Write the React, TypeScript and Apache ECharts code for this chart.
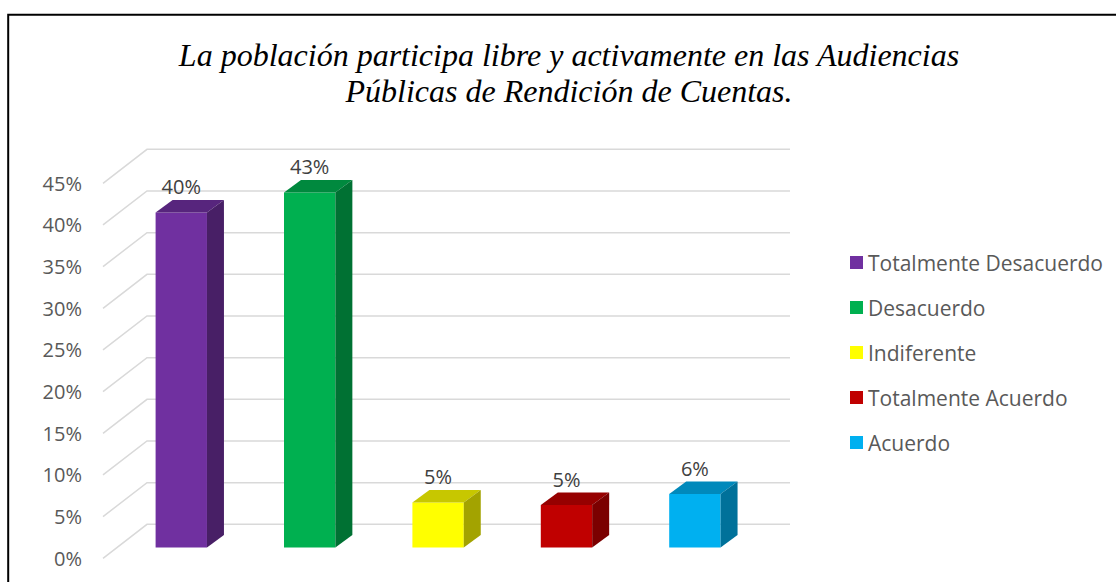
import React, { useEffect, useRef } from "react";
import * as echarts from "echarts";

const categories = [
  "Totalmente Desacuerdo",
  "Desacuerdo",
  "Indiferente",
  "Totalmente Acuerdo",
  "Acuerdo",
];
const values = [40.2, 42.6, 5.4, 5.1, 6.4];
const frontColors = ["#7030A0", "#00B050", "#FFFF00", "#C00000", "#00B0F0"];
const topColors = ["#57257D", "#00893E", "#C7C700", "#960000", "#0089BB"];
const sideColors = ["#481F66", "#007133", "#A3A300", "#7B0000", "#00719A"];
const gridTicks = [0, 5, 10, 15, 20, 25, 30, 35, 40, 45];
const titleText =
  "La población participa libre y activamente en las Audiencias\nPúblicas de Rendición de Cuentas.";

const DEPTH_X = 44;
const DEPTH_Y = -34;
const BAR_POS = 0.32;
const BAR_DX = 17;
const BAR_DY = -12.5;

export default function App() {
  const ref = useRef<HTMLDivElement>(null);

  useEffect(() => {
    if (!ref.current) return;
    const chart = echarts.init(ref.current, null, { renderer: "svg" });

    const gridSeries: any = {
      type: "custom",
      name: "grid",
      z: 1,
      silent: true,
      data: gridTicks.map((t) => [0, t]),
      renderItem: (params: any, api: any) => {
        const cs = params.coordSys;
        const y = api.coord([0, api.value(1)])[1];
        return {
          type: "polyline",
          shape: {
            points: [
              [cs.x, y],
              [cs.x + DEPTH_X, y + DEPTH_Y],
              [cs.x + cs.width + DEPTH_X + 1, y + DEPTH_Y],
            ],
          },
          style: { stroke: "#D9D9D9", lineWidth: 1.5, fill: "none" },
        };
      },
    };

    const barSeries = categories.map((name, i) => ({
      type: "custom",
      name,
      z: 2,
      itemStyle: { color: frontColors[i] },
      data: [[i, values[i]]],
      renderItem: (params: any, api: any) => {
        const p0 = api.coord([api.value(0), 0]);
        const p1 = api.coord([api.value(0), api.value(1)]);
        const bandW = api.size([1, 0])[0];
        const w = bandW * 0.4;
        const cx = p0[0] + DEPTH_X * BAR_POS;
        const yb = p0[1] + DEPTH_Y * BAR_POS;
        const yt = p1[1] + DEPTH_Y * BAR_POS;
        const l = cx - w / 2;
        const r = cx + w / 2;
        return {
          type: "group",
          children: [
            {
              type: "rect",
              shape: { x: l, y: yt, width: w, height: yb - yt },
              style: { fill: frontColors[i] },
            },
            {
              type: "polygon",
              shape: {
                points: [
                  [l, yt],
                  [r, yt],
                  [r + BAR_DX, yt + BAR_DY],
                  [l + BAR_DX, yt + BAR_DY],
                ],
              },
              style: { fill: topColors[i] },
            },
            {
              type: "polygon",
              shape: {
                points: [
                  [r, yt],
                  [r + BAR_DX, yt + BAR_DY],
                  [r + BAR_DX, yb + BAR_DY],
                  [r, yb],
                ],
              },
              style: { fill: sideColors[i] },
            },
            {
              type: "text",
              style: {
                x: cx,
                y: yt + BAR_DY - 13,
                text: Math.round(api.value(1)) + "%",
                align: "center",
                verticalAlign: "middle",
                fontSize: 20,
                fontFamily: "Open Sans",
                fill: "#404040",
              },
            },
          ],
        };
      },
    }));

    chart.setOption({
      animation: false,
      backgroundColor: "#FFFFFF",
      title: {
        text: titleText,
        left: 569,
        top: 37,
        padding: 0,
        textAlign: "center",
        textStyle: {
          fontFamily: "Liberation Serif",
          fontStyle: "italic",
          fontWeight: "normal",
          fontSize: 32,
          lineHeight: 36,
          color: "#000000",
        },
      },
      legend: {
        data: categories,
        orient: "vertical",
        left: 850,
        top: 252,
        padding: 0,
        itemWidth: 13,
        itemHeight: 13,
        itemGap: 24,
        icon: "rect",
        selectedMode: false,
        textStyle: {
          fontFamily: "Open Sans",
          fontSize: 21,
          lineHeight: 21,
          color: "#595959",
        },
      },
      grid: { left: 103, top: 183.3, width: 642, height: 375 },
      xAxis: {
        type: "category",
        data: categories,
        axisLine: { show: false },
        axisTick: { show: false },
        axisLabel: { show: false },
        splitLine: { show: false },
      },
      yAxis: {
        type: "value",
        min: 0,
        max: 45,
        interval: 5,
        axisLine: { show: false },
        axisTick: { show: false },
        splitLine: { show: false },
        axisLabel: {
          formatter: "{value}%",
          margin: 21,
          fontFamily: "Open Sans",
          fontSize: 20,
          color: "#595959",
        },
      },
      graphic: [
        {
          type: "rect",
          shape: { x: 8.2, y: 14.8, width: 1200, height: 700 },
          style: { fill: "none", stroke: "#000000", lineWidth: 2 },
          silent: true,
          z: 100,
        },
      ],
      series: [gridSeries, ...barSeries],
    });

    return () => chart.dispose();
  }, []);

  return (
    <div
      ref={ref}
      style={{ position: "absolute", left: 0, top: 0, width: 1116, height: 582, background: "#fff" }}
    />
  );
}
